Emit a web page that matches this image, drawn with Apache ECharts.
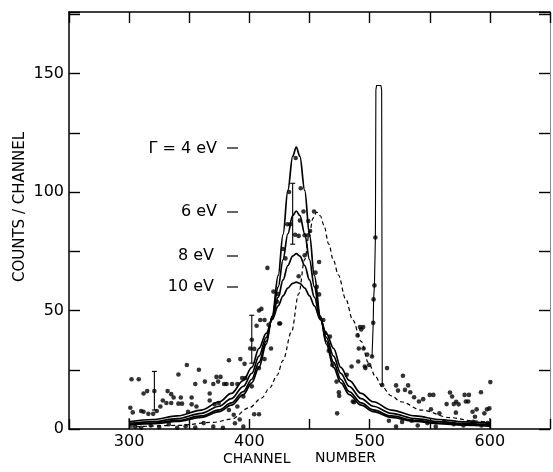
<!DOCTYPE html>
<html><head><meta charset="utf-8">
<script src="https://cdn.jsdelivr.net/npm/echarts/dist/echarts.min.js"></script>
<style>html,body{margin:0;padding:0;background:#fff}#c{width:553px;height:472px}</style>
</head><body><div id="c"></div>
<script>
// ---- data ----
const xTickLabels = [300, 400, 500, 600];
const yTickLabels = [0, 50, 100, 150];

const curveX = [300,320,340,360,375,385,395,402,408,414,419,424,428,432,436,439,442,446,450,454,459,464,470,476,483,493,503,518,538,558,578,600];
const gamma4  = [1.63,2.22,3.18,4.92,7.33,10.05,14.5,19.5,26.0,35.8,47.8,64.8,82.1,100.7,115.1,119,115.1,100.7,82.1,64.8,47.8,35.8,26.0,19.5,14.5,10.05,7.33,4.92,3.18,2.22,1.63,1.22];
const gamma6  = [1.9,2.5,3.6,5.5,8.1,11,15.8,21,28.1,37.1,47.3,60.0,71.5,82.4,90.1,92,90.1,82.4,71.5,60.0,47.3,37.1,28.1,21,15.8,11,8.1,5.5,3.6,2.5,1.9,1.4];
const gamma8  = [2.3,3.1,4.4,6.6,9.6,12.8,18,23.5,30.8,38.7,46.7,55.7,62.9,69.0,73.0,74,73.0,69.0,62.9,55.7,46.7,38.7,30.8,23.5,18,12.8,9.6,6.6,4.4,3.1,2.3,1.8];
const gamma10 = [3,4,5.5,8,11.5,15,20.5,26,34.0,40.4,46.2,52.0,56.2,59.5,61.5,62,61.5,59.5,56.2,52.0,46.2,40.4,34.0,26,20.5,15,11.5,8,5.5,4,3,2.4];

const dashX = [300,340,370,385,400,410,417,423,428,435,441,446,450,453,456,459,462,466,470,474,480,486,493,499,505,510,518,526,543,567,585,600];
const dashY = [0.8,1.5,2.8,4.2,9,13,17.4,22.6,29,41,57,71.5,83,89,91.5,90,86,78,71,65,55,46,37,28,22,18,14,11.5,8,4.8,3.5,2.7];

const spikeX = [502,503,503.3,504,504.8,505.2,505.8,509.4,510,510.5];
const spikeY = [30.6,44.8,54.7,60.6,80.8,143,145,145,143,18.6];

const errorBars = [[321,8,24.3],[402,27.8,48],[436,78,103.7]];
const curveEnds = [[300,0,4.6],[600,0,4.6]];

const dots = [
 [302,21],[308,21],[312,15],[315,16],[321,16],[301,9],[303,7],[310,7.6],[312,7.3],[316,6.4],[320,6.4],[323,7.6],[326,9.5],[328,12],[331,11],[332,16],[335,14.7],[337,13.3],[335,11],[341,23],[343,13.3],[344,10.7],[341,10.7],[348,27],[349,7.3],[352,13.3],[352,10.4],[355,19],[358,25],[356,9.5],[363,20],[367,15],[367,12],[370,19],[372.6,22],[376,22],[374,20],[371,10.4],[374.5,11],[379,19],[381,19],[385.6,19],[390,19],[383,29],[396,27.5],[390,9.5],[383,8],[387,6],[388,2.4],[392,4],[395,13.7],[392.5,29.5],
 [394,21.5],[396.6,21.5],[402,18],[404,6.2],[408,6.2],[402,37.7],[400.7,34],[404,33.8],[406,43.6],[408,50],[410,50.7],[409,46],[412.6,46],[412.6,29.5],[408,25.7],[415,68],[416,44],[418,34],[420,58],[424,57],[424.8,44.5],[423,53.7],[425.6,44.5],[428,76],[430,72],
 [438.5,114.4],[433,100],[442.7,101.6],[431.5,86.4],[434,86.4],[445,91.8],[453.8,91.8],[442,88],[449,87.8],[438,82],[441,81.5],[446,81.8],[449,81.8],[450.5,83.6],[446,73.3],[458,70.5],[441,64.5],[455,66],
 [458,56.8],[461.5,46],[463,40.5],[467,39],[472.5,20],[474.4,15.5],[474.7,14],[473,6.6],[456,60],[466,33],[469,27],
 [487,11.3],[490,39.5],[492,43],[494.6,43],[493,42],[491,34],[495,34],[498,31.4],[499.6,27],[485,26.4],[496,26.4],[490.5,28.5],[496.5,25.7],[486,11.6],[481,22.9],[502,30.6],[503,44.8],[503.3,54.7],[504,60.6],[504.8,80.8],[510.5,18.6],[514.5,25.7],[522,18.4],[523.6,16.2],[527.7,22.5],[529.4,16.5],[532,18.4],[533.8,15.5],[537,13.4],[541,11.6],[544.5,12.6],[550,14.4],[553,14.4],[551,8.3],[558,6.6],[564,10.5],[566.8,15.4],[568.6,13.7],[570,10.5],[572,11.5],[574,10.4],[579,14.4],[582.6,14.4],[580,11.6],[582,11.6],[571.7,6.9],[585.6,7.3],[587.6,5.2],[589,8.3],[592.6,15.5],[595.4,6.6],[597.6,8.3],[599.6,8.7],[600.4,19.8],
 [305,1],[310,0.5],[318,1.5],[325,0.8],[333,2],[340,0.5],[347,1.2],[355,0.6],[362,2.5],[370,1],[378,0.5],[395,1],[516,3.5],[522,1],[527,3],[535,3.5],[540,1.5],[548,2.5],[555,1],[562,3],[570,2],[578,1.5],[586,3],[593,1.5],[598,2.5]
];

const curveLabels = ['\u0393 = 4 eV', '6 eV', '8 eV', '10 eV'];

// ---- chart ----
const FONT = 'DejaVu Sans';
const zip = (xs, ys) => xs.map((x, i) => [x, ys[i]]);
const chart = echarts.init(document.getElementById('c'), null, {renderer: 'canvas'});

const axisLineStyle = {color: '#000', width: 1.5};
const tickStyle = {color: '#000', width: 1.4};

function vbar(withCaps) {
  return function (params, api) {
    const x = api.value(0), lo = api.value(1), hi = api.value(2);
    const p1 = api.coord([x, lo]), p2 = api.coord([x, hi]);
    const st = {stroke: '#000', lineWidth: 1.1};
    const ch = [{type: 'line', shape: {x1: p1[0], y1: p1[1], x2: p2[0], y2: p2[1]}, style: st}];
    if (withCaps) {
      ch.push({type: 'line', shape: {x1: p1[0] - 2.5, y1: p1[1], x2: p1[0] + 2.5, y2: p1[1]}, style: st});
      ch.push({type: 'line', shape: {x1: p2[0] - 2.5, y1: p2[1], x2: p2[0] + 2.5, y2: p2[1]}, style: st});
    }
    return {type: 'group', children: ch};
  };
}

const curveLine = (data) => ({
  type: 'line', data: data, showSymbol: false, smooth: 0.35, smoothMonotone: 'x',
  lineStyle: {color: '#000', width: 1.7}, silent: true, z: 3
});

const labelFont = '16px "' + FONT + '"';

const option = {
  animation: false,
  backgroundColor: '#fff',
  grid: {left: 69, right: 1, top: 12, bottom: 43},
  xAxis: [
    {type: 'value', position: 'bottom', min: 250, max: 650, interval: 50,
     axisLine: {onZero: false, lineStyle: axisLineStyle}, axisTick: {inside: true, length: 10, lineStyle: tickStyle},
     axisLabel: {color: '#000', fontSize: 16, fontFamily: FONT, margin: 5,
       formatter: v => xTickLabels.indexOf(v) >= 0 ? String(v) : ''},
     splitLine: {show: false}},
    {type: 'value', position: 'top', min: 250, max: 650, interval: 50,
     axisLine: {onZero: false, lineStyle: axisLineStyle}, axisTick: {inside: true, length: 11, lineStyle: tickStyle},
     axisLabel: {show: false}, splitLine: {show: false}}
  ],
  yAxis: [
    {type: 'value', position: 'left', min: 0, max: 176, interval: 25,
     axisLine: {onZero: false, lineStyle: axisLineStyle}, axisTick: {inside: true, length: 11, lineStyle: tickStyle},
     axisLabel: {color: '#000', fontSize: 16, fontFamily: FONT, margin: 5,
       formatter: v => yTickLabels.indexOf(v) >= 0 ? String(v) : ''},
     splitLine: {show: false}},
    {type: 'value', position: 'right', min: 0, max: 176, interval: 25,
     axisLine: {onZero: false, lineStyle: {color: '#888', width: 1}}, axisTick: {inside: true, length: 11, lineStyle: tickStyle},
     axisLabel: {show: false}, splitLine: {show: false}}
  ],
  series: [
    curveLine(zip(curveX, gamma4)),
    curveLine(zip(curveX, gamma6)),
    curveLine(zip(curveX, gamma8)),
    curveLine(zip(curveX, gamma10)),
    {type: 'line', data: zip(dashX, dashY), showSymbol: false, smooth: 0.35, smoothMonotone: 'x',
     lineStyle: {color: '#000', width: 1.2, type: [4, 3]}, silent: true, z: 3},
    {type: 'line', data: zip(spikeX, spikeY), showSymbol: false, smooth: false,
     lineStyle: {color: '#000', width: 1.1}, silent: true, z: 3},
    {type: 'custom', data: errorBars, renderItem: vbar(true), z: 4, silent: true},
    {type: 'custom', data: curveEnds, renderItem: vbar(false), z: 4, silent: true},
    {type: 'scatter', data: dots, symbol: 'circle', symbolSize: 4.6,
     itemStyle: {color: '#000'}, silent: true, z: 5}
  ],
  graphic: [
    {type: 'text', x: 20, y: 207, rotation: Math.PI / 2,
     style: {text: 'COUNTS / CHANNEL', fill: '#000', font: '15px "' + FONT + '"', textAlign: 'center', textVerticalAlign: 'middle'}},
    {type: 'text', x: 223, y: 459,
     style: {text: 'CHANNEL', fill: '#000', font: '14px "' + FONT + '"', textAlign: 'left', textVerticalAlign: 'middle'}},
    {type: 'text', x: 315, y: 458,
     style: {text: 'NUMBER', fill: '#000', font: '14px "' + FONT + '"', textAlign: 'left', textVerticalAlign: 'middle'}},
    {type: 'text', x: 217, y: 148.5,
     style: {text: curveLabels[0], fill: '#000', font: labelFont, textAlign: 'right', textVerticalAlign: 'middle'}},
    {type: 'text', x: 217, y: 211.5,
     style: {text: curveLabels[1], fill: '#000', font: labelFont, textAlign: 'right', textVerticalAlign: 'middle'}},
    {type: 'text', x: 214, y: 256,
     style: {text: curveLabels[2], fill: '#000', font: labelFont, textAlign: 'right', textVerticalAlign: 'middle'}},
    {type: 'text', x: 214, y: 287,
     style: {text: curveLabels[3], fill: '#000', font: labelFont, textAlign: 'right', textVerticalAlign: 'middle'}},
    {type: 'line', shape: {x1: 227, y1: 148, x2: 238, y2: 148}, style: {stroke: '#000', lineWidth: 1.2}},
    {type: 'line', shape: {x1: 227, y1: 212, x2: 238, y2: 212}, style: {stroke: '#000', lineWidth: 1.2}},
    {type: 'line', shape: {x1: 227, y1: 256, x2: 238, y2: 256}, style: {stroke: '#000', lineWidth: 1.2}},
    {type: 'line', shape: {x1: 227, y1: 287, x2: 238, y2: 287}, style: {stroke: '#000', lineWidth: 1.2}}
  ]
};
chart.setOption(option);
</script>
</body></html>
